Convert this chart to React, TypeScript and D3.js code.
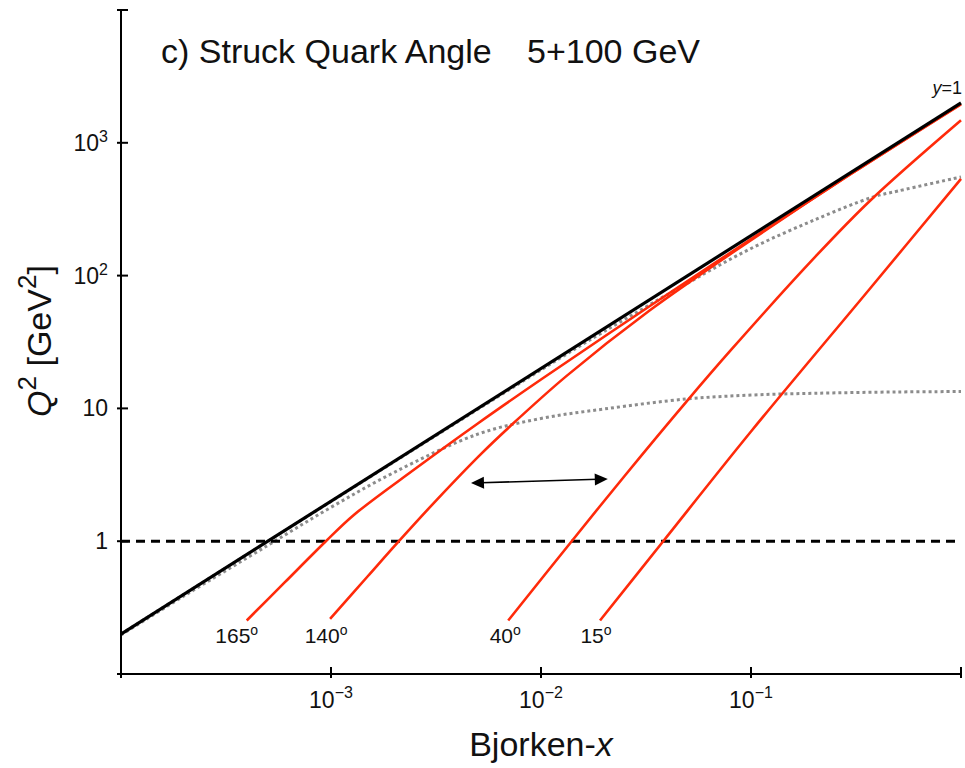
import React from "react";
import * as d3 from "d3";

// ---- data ----
const xTickVals = [1e-4, 1e-3, 1e-2, 1e-1, 1];
const xTickExps = ["", "−3", "−2", "−1", ""];
const yTickVals = [0.1, 1, 10, 100, 1000, 10000];
const yTickBase = ["", "1", "10", "10", "10", ""];
const yTickExps = ["", "", "", "2", "3", ""];

const yOneX = [1e-4, 1];
const yOneQ2 = [0.2, 2000];

const angle165X = [3.97e-4, 6e-4, 9.4e-4, 1.28e-3, 2.5e-3, 5e-3, 1e-2, 3.3e-2, 0.1, 0.3, 1];
const angle165Q2 = [0.253, 0.487, 0.99, 1.57, 3.48, 7.7, 16.5, 59, 188, 585, 1960];

const angle140X = [9.9e-4, 1.5e-3, 2.09e-3, 3.18e-3, 5.13e-3, 7.11e-3, 1.32e-2, 3.3e-2, 0.1, 0.3, 1];
const angle140Q2 = [0.26, 0.547, 0.988, 2.04, 4.47, 7.31, 17.5, 54.8, 185, 585, 1950];

const angle40X = [6.98e-3, 1.4e-2, 2.5e-2, 4.94e-2, 8.09e-2, 0.2, 0.369, 1];
const angle40Q2 = [0.253, 1.0, 3.1, 11.3, 27.9, 135.8, 366, 1476];

const angle15X = [1.91e-2, 3.82e-2, 0.1, 0.369, 1];
const angle15Q2 = [0.253, 1.0, 6.7, 80, 535];

const angleLabels = ["165", "140", "40", "15"];

const dotLowX = [1e-4, 2e-4, 5e-4, 1e-3, 2e-3, 5e-3, 1e-2, 2e-2, 5e-2, 0.1, 0.2, 0.5, 1];
const dotLowQ2 = [0.197, 0.388, 0.93, 1.8, 3.3, 6.4, 8.4, 9.9, 11.8, 12.6, 13.0, 13.3, 13.4];

const dotUpX = [1e-4, 1e-3, 1e-2, 2e-2, 5e-2, 0.1, 0.2, 0.38, 0.5, 1];
const dotUpQ2 = [0.2, 1.99, 19.5, 38, 88, 160, 262, 390, 433, 553];

const cutQ2 = 1;
const arrowX = [4.64e-3, 2.08e-2];
const arrowQ2 = [2.74, 2.94];

const titleMain = "c) Struck Quark Angle";
const titleBeam = "5+100 GeV";

// ---- chart ----
const W = 965;
const H = 768;
const RED = "#ff2a0a";

export default function App() {
  const xs = d3.scaleLog().domain([1e-4, 1]).range([121, 961]);
  const ys = d3.scaleLog().domain([0.1, 1e4]).range([674, 10]);

  const line = d3
    .line<[number, number]>()
    .x((d) => xs(d[0]))
    .y((d) => ys(d[1]))
    .curve(d3.curveCatmullRom.alpha(0.5));

  const pts = (xa: number[], ya: number[]) => xa.map((x, i) => [x, ya[i]] as [number, number]);

  const angles = [
    pts(angle165X, angle165Q2),
    pts(angle140X, angle140Q2),
    pts(angle40X, angle40Q2),
    pts(angle15X, angle15Q2),
  ];
  const labelShift = [-10, -4, -3, -4];

  const ax0 = xs(arrowX[0]);
  const ay0 = ys(arrowQ2[0]);
  const ax1 = xs(arrowX[1]);
  const ay1 = ys(arrowQ2[1]);
  const ang = Math.atan2(ay1 - ay0, ax1 - ax0);
  const head = (tx: number, ty: number, dir: number) => {
    const L = 13;
    const hw = 6;
    const bx = tx - dir * L * Math.cos(ang);
    const by = ty - dir * L * Math.sin(ang);
    const px = -Math.sin(ang) * hw;
    const py = Math.cos(ang) * hw;
    return `${tx},${ty} ${bx + px},${by + py} ${bx - px},${by - py}`;
  };

  const font = "'Liberation Sans', Arial, Helvetica, sans-serif";

  return (
    <svg
      width={W}
      height={H}
      style={{ position: "absolute", left: 0, top: 0, background: "#fff" }}
      fontFamily={font}
    >
      <rect x={0} y={0} width={W} height={H} fill="#fff" />

      {/* dotted gray curves */}
      <path d={line(pts(dotLowX, dotLowQ2)) || ""} fill="none" stroke="#8c8c8c" strokeWidth={3} strokeDasharray="3,3" />
      <path d={line(pts(dotUpX, dotUpQ2)) || ""} fill="none" stroke="#8c8c8c" strokeWidth={3} strokeDasharray="3,3" />

      {/* Q2 = 1 dashed */}
      <line x1={xs(1e-4)} x2={xs(1)} y1={ys(cutQ2)} y2={ys(cutQ2)} stroke="#000" strokeWidth={3} strokeDasharray="9,6" />

      {/* red angle curves */}
      {angles.map((a, i) => (
        <path key={i} d={line(a) || ""} fill="none" stroke={RED} strokeWidth={2.6} />
      ))}

      {/* y = 1 line */}
      <path d={line(pts(yOneX, yOneQ2)) || ""} fill="none" stroke="#000" strokeWidth={3.2} />

      {/* arrow */}
      <line x1={ax0 + 10 * Math.cos(ang)} y1={ay0 + 10 * Math.sin(ang)} x2={ax1 - 10 * Math.cos(ang)} y2={ay1 - 10 * Math.sin(ang)} stroke="#000" strokeWidth={1.6} />
      <polygon points={head(ax0, ay0, -1)} fill="#000" />
      <polygon points={head(ax1, ay1, 1)} fill="#000" />

      {/* angle labels */}
      {angles.map((a, i) => (
        <text key={i} x={xs(a[0][0]) + labelShift[i]} y={643} fontSize={21} textAnchor="middle" fill="#111">
          {angleLabels[i]}
          <tspan fontSize={14} dy={-8}>o</tspan>
        </text>
      ))}

      {/* y=1 label */}
      <text x={962} y={94} fontSize={18} textAnchor="end" fill="#111">
        <tspan fontStyle="italic">y</tspan>=1
      </text>

      {/* axes */}
      <line x1={121} x2={121} y1={ys(1e4)} y2={ys(0.1)} stroke="#000" strokeWidth={2} />
      <line x1={121} x2={961} y1={ys(0.1)} y2={ys(0.1)} stroke="#000" strokeWidth={2} />
      {yTickVals.map((v, i) => (
        <g key={"yt" + i}>
          <line x1={117} x2={128} y1={ys(v)} y2={ys(v)} stroke="#000" strokeWidth={2} />
          {yTickBase[i] && (
            <text x={108} y={ys(v) + 8} fontSize={23} textAnchor="end" fill="#111">
              {yTickBase[i]}
              {yTickExps[i] && (
                <tspan fontSize={16} dy={-9}>
                  {yTickExps[i]}
                </tspan>
              )}
            </text>
          )}
        </g>
      ))}
      {xTickVals.map((v, i) => (
        <g key={"xt" + i}>
          <line x1={xs(v)} x2={xs(v)} y1={667} y2={678} stroke="#000" strokeWidth={2} />
          {xTickExps[i] && (
            <text x={xs(v)} y={708} fontSize={23} textAnchor="middle" fill="#111">
              10
              <tspan fontSize={16} dy={-10}>
                {xTickExps[i]}
              </tspan>
            </text>
          )}
        </g>
      ))}

      {/* axis titles */}
      <text x={541} y={756} fontSize={34} textAnchor="middle" fill="#111">
        Bjorken-<tspan fontStyle="italic">x</tspan>
      </text>
      <text transform="translate(51,341) rotate(-90)" fontSize={34} textAnchor="middle" fill="#111">
        <tspan fontStyle="italic">Q</tspan>
        <tspan fontSize={26} dy={-15}>2</tspan>
        <tspan dy={15}> [GeV</tspan>
        <tspan fontSize={26} dy={-15}>2</tspan>
        <tspan dy={15}>]</tspan>
      </text>

      {/* title */}
      <text x={161} y={63} fontSize={34} fill="#111">
        {titleMain}
      </text>
      <text x={527} y={63} fontSize={34} fill="#111">
        {titleBeam}
      </text>
    </svg>
  );
}
